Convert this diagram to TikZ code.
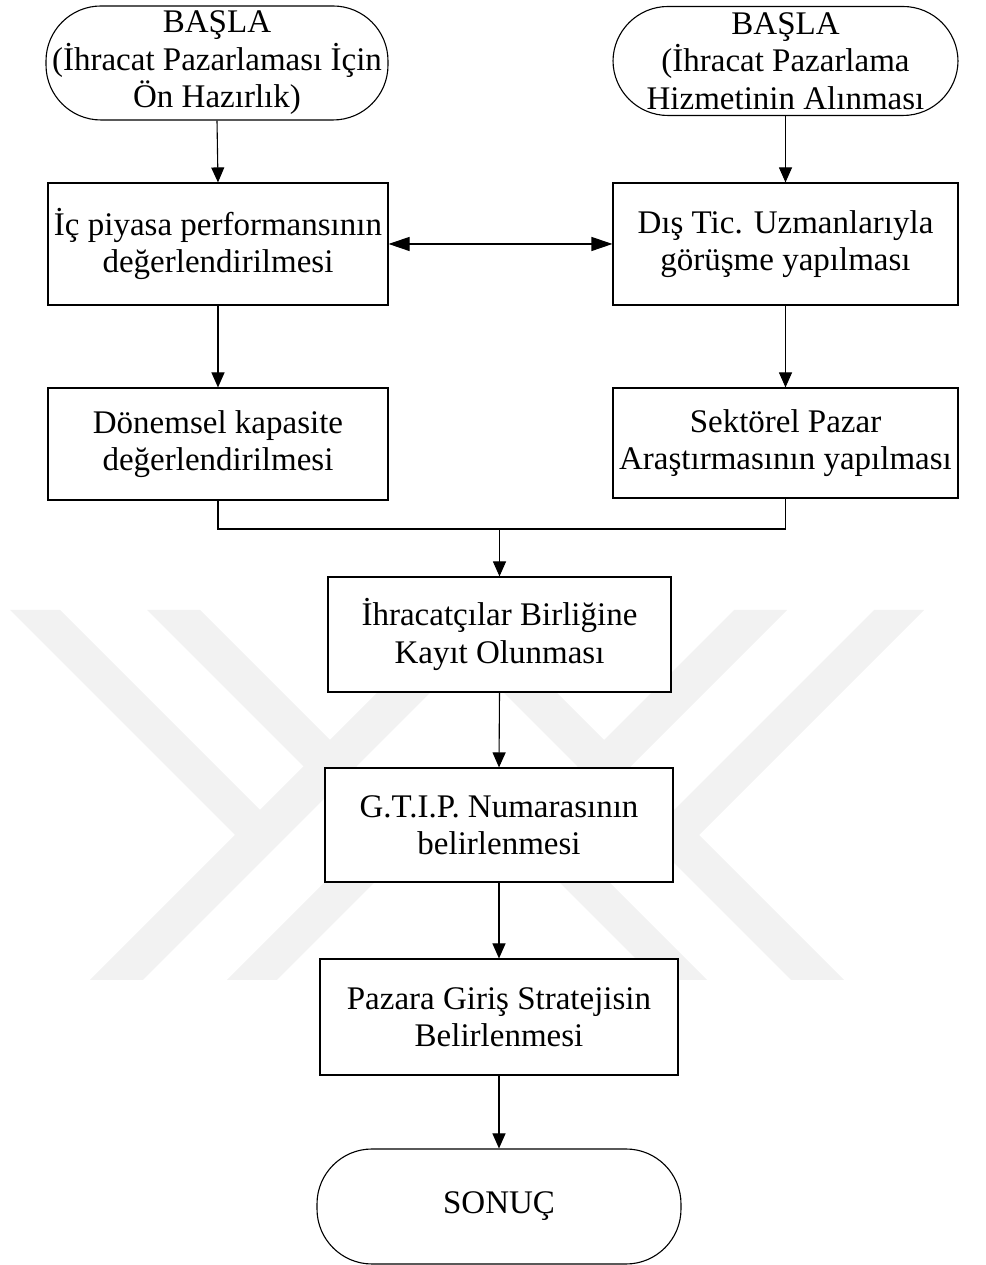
\documentclass[tikz,border=0pt]{standalone}
\usepackage{fontspec}
\setmainfont{Liberation Serif}
\usetikzlibrary{arrows.meta}
\definecolor{wmgray}{RGB}{242,242,242}
\begin{document}
\begin{tikzpicture}[x=1pt,y=1pt,
  box/.style={draw, line width=1.1pt, fill=white, rectangle, inner sep=0pt, align=center,
    font=\fontsize{33}{37.5}\selectfont},
  term/.style={box, rounded corners=55pt},
  arr/.style={-{Triangle[length=15pt,width=13pt]}, line width=1.1pt},
  dbl/.style={{Triangle[length=21pt,width=14pt]}-{Triangle[length=21pt,width=14pt]}, line width=1.1pt},
  link/.style={line width=1.1pt},
  wm/.style={fill=wmgray, draw=none}]
\useasboundingbox (0,0) rectangle (985,1265);
% faint watermark
\fill[wm] (10,655) -- (60,655) -- (261,454) -- (236,429) -- cycle;
\fill[wm] (90,285) -- (143,285) -- (467,609) -- (791,285) -- (844,285) -- (467,662) -- cycle;
\fill[wm] (147,655) -- (200,655) -- (423.5,431.5) -- (277,285) -- (227,285) -- (372,430) -- cycle;
\fill[wm] (924,655) -- (874,655) -- (673,454) -- (698,429) -- cycle;
\fill[wm] (787,655) -- (734,655) -- (510.5,431.5) -- (657,285) -- (707,285) -- (562,430) -- cycle;
% nodes
\node[term, minimum width=342pt, minimum height=114pt] (t1) at (217,1202)
  {BAŞLA\\(İhracat Pazarlaması İçin\\Ön Hazırlık)};
\node[term, minimum width=345pt, minimum height=109pt] (t2) at (785.5,1204)
  {BAŞLA\\(İhracat Pazarlama\\Hizmetinin Alınması};
\node[box, minimum width=340pt, minimum height=122pt] (b1) at (218,1021)
  {İç piyasa performansının\\değerlendirilmesi};
\node[box, minimum width=345pt, minimum height=122pt] (b2) at (785.5,1021)
  {Dış Tic. Uzmanlarıyla\\görüşme yapılması};
\node[box, minimum width=340pt, minimum height=112pt] (b3) at (218,821)
  {Dönemsel kapasite\\değerlendirilmesi};
\node[box, minimum width=345pt, minimum height=110pt] (b4) at (785.5,822)
  {Sektörel Pazar\\Araştırmasının yapılması};
\node[box, minimum width=343pt, minimum height=115pt] (b5) at (499.5,630.5)
  {İhracatçılar Birliğine\\Kayıt Olunması};
\node[box, minimum width=348pt, minimum height=114pt] (b6) at (499,440)
  {G.T.I.P. Numarasının\\belirlenmesi};
\node[box, minimum width=358pt, minimum height=116pt] (b7) at (499,248)
  {Pazara Giriş Stratejisin\\Belirlenmesi};
\node[term, minimum width=364pt, minimum height=115pt] (e) at (499,58.5) {SONUÇ};
% connectors
\draw[arr] (t1.south) -- (b1.north);
\draw[arr] (t2.south -| b2.north) -- (b2.north);
\draw[dbl] (b1.east) -- (b2.west);
\draw[arr] (b1.south) -- (b3.north);
\draw[arr] (b2.south) -- (b4.north);
\coordinate (m) at (499.5,736);
\draw[link] (b3.south) |- (m);
\draw[link] (b4.south) |- (m);
\draw[arr] (m) -- (b5.north);
\draw[arr] (b5.south) -- (b6.north);
\draw[arr] (b6.south) -- (b7.north);
\draw[arr] (b7.south) -- (e.north);
\end{tikzpicture}
\end{document}
